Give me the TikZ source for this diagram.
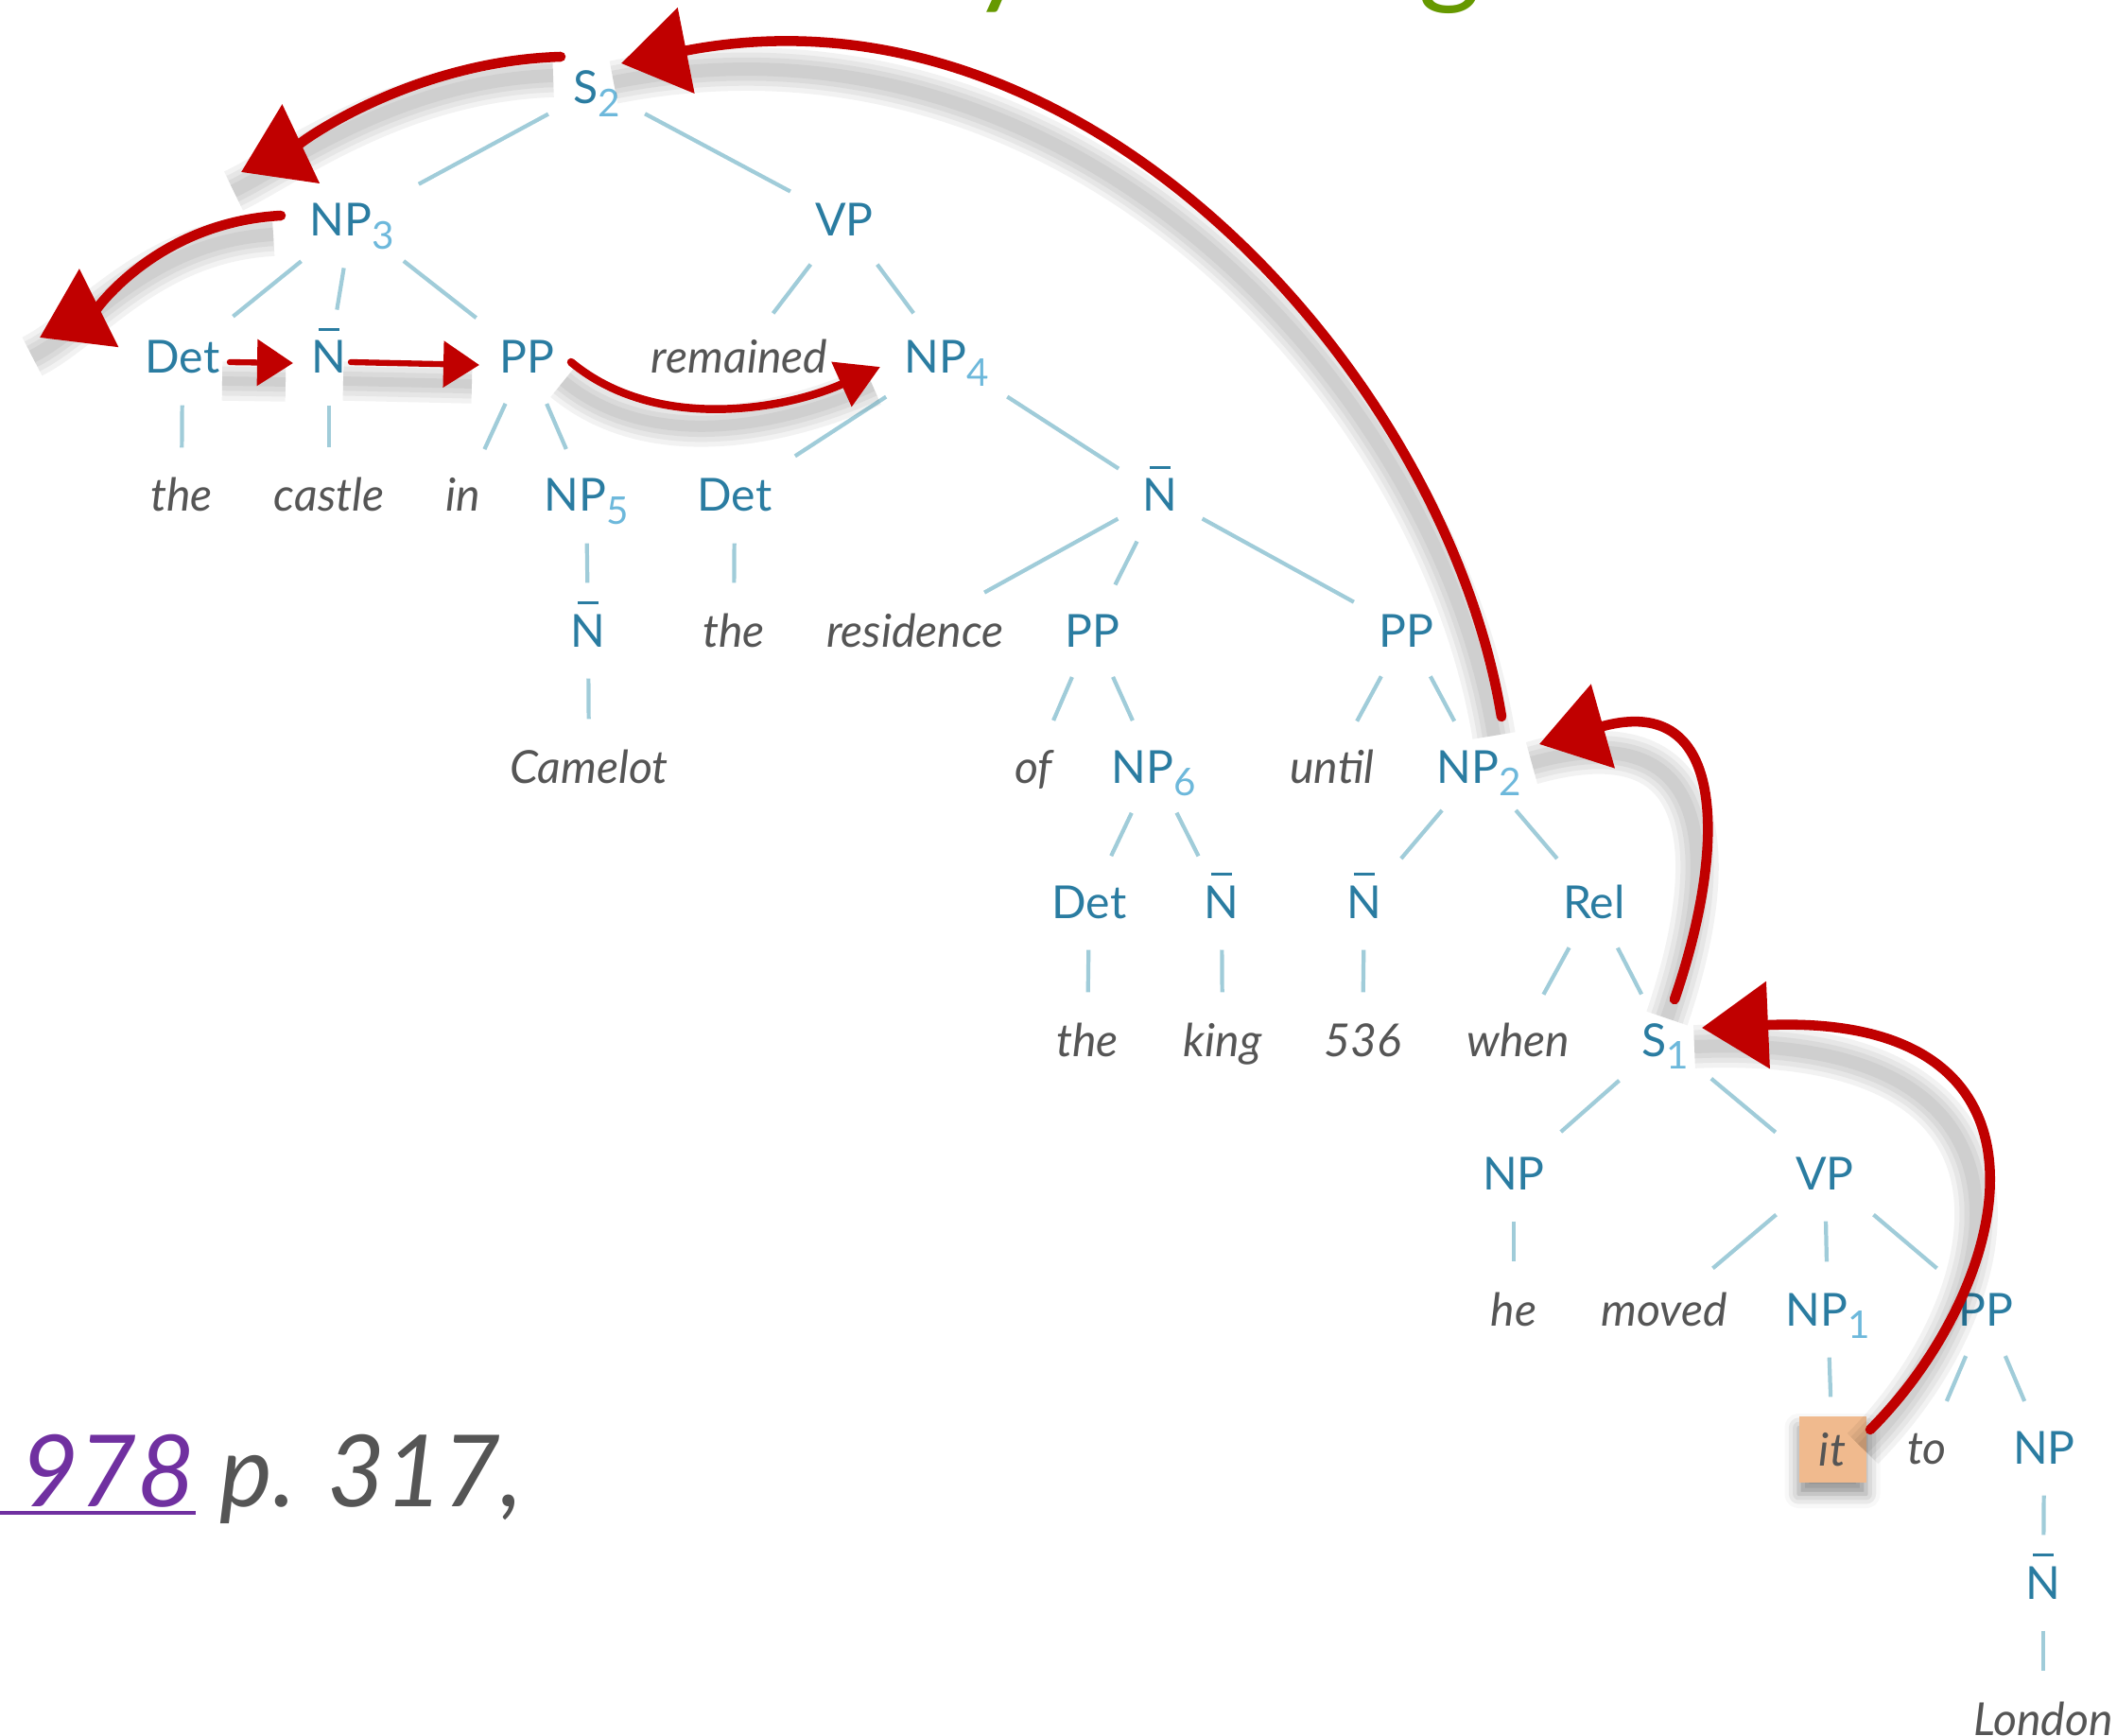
\documentclass[tikz,border=0pt]{standalone}
\usepackage{fontspec}
\setmainfont{Lato}
\usetikzlibrary{arrows.meta,calc,shadows.blur}

\definecolor{catblue}{HTML}{2A7CA1}
\definecolor{subblue}{HTML}{6DB8DB}
\definecolor{branchblue}{HTML}{A0CCD9}
\definecolor{wordgray}{HTML}{555555}
\definecolor{penred}{HTML}{C00000}
\definecolor{peach}{HTML}{F0BA8E}
\definecolor{linkpurple}{HTML}{7030A0}
\definecolor{titlegreen}{HTML}{669900}

% subscript index and N-bar
\newcommand\sub[1]{\raisebox{-0.55ex}{\color{subblue}\fontsize{11.5}{12}\selectfont #1}}
\newcommand\nbar{\makebox[0pt][l]{\hspace{0.15em}\raisebox{0.93em}{\rule{0.45em}{0.07em}}}N}

\tikzset{
  cat/.style={text=catblue, font=\fontsize{13.7}{16}\selectfont, inner xsep=0.8mm, inner ysep=1.3mm, text height=3.4mm, text depth=0mm},
  word/.style={cat, text=wordgray, font=\fontsize{13.7}{16}\selectfont\itshape},
  branch/.style={draw=branchblue, line width=1.2pt, shorten <=2mm, shorten >=2mm},
  penshade/.style={preaction={draw=black, arrows=-, opacity=0.05, line width=#1, transform canvas={shift={(-0.08,-0.2)}}}},
  pen/.style={draw=penred, line width=#1, line cap=round,
    penshade=#1+10pt, penshade=#1+7pt, penshade=#1+4pt, penshade=#1+1pt},
  pen/.default=3pt,
  bighead/.style={-{Triangle[length=7mm, width=9mm]}},
  smallhead/.style={-{Triangle[length=3.8mm, width=4.8mm]}},
}

\begin{document}
\begin{tikzpicture}
  \useasboundingbox (0,0) rectangle (22.39,-18.36);

  % title, cut off by the top edge
  \begin{scope}
    \clip (0,0) rectangle (22.39,-18.36);
    \node[anchor=base, inner sep=0, text=titlegreen, font=\fontsize{36}{40}\selectfont] (ty) at (10.6,0.08) {y};
    \node[anchor=base, inner sep=0, text=titlegreen, font=\fontsize{36}{40}\selectfont] (tg) at (15.33,0.08) {g};
  \end{scope}

  % tree
  \node[cat] (s2) at (6.31,-0.93) {S\sub{2}};
  \node[cat] (np3) at (3.72,-2.33) {NP\sub{3}};
  \node[cat] (vp) at (8.93,-2.33) {VP};
  \node[cat] (det1) at (1.93,-3.78) {Det};
  \node[cat] (nb1) at (3.48,-3.78) {\nbar};
  \node[cat] (pp1) at (5.57,-3.78) {PP};
  \node[word] (wremained) at (7.82,-3.78) {remained};
  \node[cat] (np4) at (10.01,-3.78) {NP\sub{4}};
  \node[word] (wthe1) at (1.92,-5.24) {the};
  \node[word] (wcastle) at (3.48,-5.24) {castle};
  \node[word] (win) at (4.90,-5.24) {in};
  \node[cat] (np5) at (6.20,-5.24) {NP\sub{5}};
  \node[cat] (det2) at (7.77,-5.24) {Det};
  \node[cat] (nb2) at (12.27,-5.24) {\nbar};
  \node[cat] (nb3) at (6.22,-6.67) {\nbar};
  \node[word] (wthe2) at (7.76,-6.67) {the};
  \node[word] (wresidence) at (9.68,-6.67) {residence};
  \node[cat] (pp2) at (11.55,-6.67) {PP};
  \node[cat] (pp3) at (14.87,-6.67) {PP};
  \node[word] (wcamelot) at (6.23,-8.11) {Camelot};
  \node[word] (wof) at (10.93,-8.11) {of};
  \node[cat] (np6) at (12.20,-8.11) {NP\sub{6}};
  \node[word] (wuntil) at (14.09,-8.11) {until};
  \node[cat] (np2) at (15.64,-8.11) {NP\sub{2}};
  \node[cat] (det3) at (11.52,-9.54) {Det};
  \node[cat] (nb4) at (12.92,-9.54) {\nbar};
  \node[cat] (nb5) at (14.43,-9.54) {\nbar};
  \node[cat] (rel) at (16.86,-9.54) {Rel};
  \node[word] (wthe3) at (11.50,-11.00) {the};
  \node[word] (wking) at (12.93,-11.00) {king};
  \node[word] (w536) at (14.41,-11.00) {536};
  \node[word] (wwhen) at (16.06,-11.00) {when};
  \node[cat] (s1) at (17.61,-11.00) {S\sub{1}};
  \node[cat] (np) at (16.01,-12.41) {NP};
  \node[cat] (vp2) at (19.30,-12.41) {VP};
  \node[word] (whe) at (16.01,-13.85) {he};
  \node[word] (wmoved) at (17.60,-13.85) {moved};
  \node[cat] (np1) at (19.33,-13.85) {NP\sub{1}};
  \node[cat] (pp4) at (21.00,-13.85) {PP};
  \node[word, fill=peach, minimum width=7.1mm, minimum height=7mm,
        blur shadow={shadow xshift=0pt, shadow yshift=-1.2mm, shadow blur radius=1.5mm, shadow opacity=45}] (wit) at (19.38,-15.33) {it};
  \node[word] (wto) at (20.38,-15.31) {to};
  \node[cat] (np7) at (21.62,-15.31) {NP};
  \node[cat] (nb6) at (21.61,-16.74) {\nbar};
  \node[word] (wlondon) at (21.61,-18.18) {London};

  \draw[branch] (s2) -- (np3); \draw[branch] (s2) -- (vp);
  \draw[branch] (np3) -- (det1); \draw[branch] (np3) -- (nb1); \draw[branch] (np3) -- (pp1);
  \draw[branch] (det1) -- (wthe1); \draw[branch] (nb1) -- (wcastle);
  \draw[branch] (pp1) -- (win); \draw[branch] (pp1) -- (np5);
  \draw[branch] (np5) -- (nb3); \draw[branch] (nb3) -- (wcamelot);
  \draw[branch] (vp) -- (wremained); \draw[branch] (vp) -- (np4);
  \draw[branch] (np4) -- (det2); \draw[branch] (np4) -- (nb2);
  \draw[branch] (det2) -- (wthe2);
  \draw[branch] (nb2) -- (wresidence); \draw[branch] (nb2) -- (pp2); \draw[branch] (nb2) -- (pp3);
  \draw[branch] (pp2) -- (wof); \draw[branch] (pp2) -- (np6);
  \draw[branch] (np6) -- (det3); \draw[branch] (np6) -- (nb4);
  \draw[branch] (det3) -- (wthe3); \draw[branch] (nb4) -- (wking);
  \draw[branch] (pp3) -- (wuntil); \draw[branch] (pp3) -- (np2);
  \draw[branch] (np2) -- (nb5); \draw[branch] (np2) -- (rel);
  \draw[branch] (nb5) -- (w536);
  \draw[branch] (rel) -- (wwhen); \draw[branch] (rel) -- (s1);
  \draw[branch] (s1) -- (np); \draw[branch] (s1) -- (vp2);
  \draw[branch] (np) -- (whe);
  \draw[branch] (vp2) -- (wmoved); \draw[branch] (vp2) -- (np1); \draw[branch] (vp2) -- (pp4);
  \draw[branch] (np1) -- (wit);
  \draw[branch] (pp4) -- (wto); \draw[branch] (pp4) -- (np7);
  \draw[branch] (np7) -- (nb6); \draw[branch] (nb6) -- (wlondon);

  % red pen arrows
  \draw[pen, bighead] ($(s2)+(-0.38,0.33)$) .. controls +(-1.63,-0.05) and +(0.55,0.26) .. ($(np3)+(-1.17,0.51)$);
  \draw[pen, bighead] ($(np3)+(-0.75,0.05)$) .. controls +(-1.3,-0.07) and +(0.6,0.3) .. ($(det1)+(-1.51,0.21)$);
  \draw[pen=1.8pt, smallhead] ($(det1)+(0.50,-0.05)$) -- ($(nb1)+(-0.38,-0.06)$);
  \draw[pen=1.8pt, smallhead] ($(nb1)+(0.23,-0.05)$) -- ($(pp1)+(-0.50,-0.08)$);
  \draw[pen=2.4pt, -{Triangle[length=4.5mm, width=5mm]}] ($(pp1)+(0.47,-0.05)$) .. controls +(0.9,-0.75) and +(-1.0,-0.45) .. ($(np4)+(-0.70,-0.10)$);
  \draw[pen, bighead] ($(np2)+(0.24,0.53)$) .. controls +(-0.58,3.57) and +(4.93,0.97) .. ($(s2)+(0.26,0.26)$);
  \draw[pen, bighead] ($(s1)+(0.10,0.43)$) .. controls +(0.54,1.57) and +(2.02,0.57) .. ($(np2)+(0.64,0.24)$);
  \draw[pen, bighead] ($(wit)+(0.40,0.21)$) .. controls +(1.52,1.52) and +(4.0,0.17) .. ($(s1)+(0.39,0.13)$);

  % reference, cut off by the left edge
  \node[anchor=base west, inner sep=0, text=linkpurple, font=\fontsize{30}{36}\selectfont\itshape] (cite) at (0.22,-15.93) {978};
  \node[anchor=base west, inner sep=0, text=wordgray, font=\fontsize{30}{36}\selectfont\itshape] (page) at (2.32,-15.93) {p. 317,};
  \draw[linkpurple, line width=1.4pt] (0,-16.0) -- (cite.east |- 0,-16.0);
\end{tikzpicture}
\end{document}
